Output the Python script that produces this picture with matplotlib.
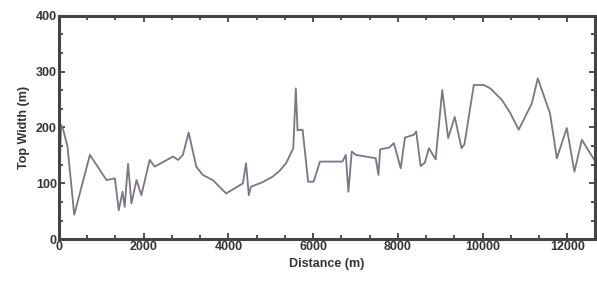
import matplotlib
matplotlib.use("Agg")
import matplotlib.pyplot as plt
from matplotlib.ticker import MultipleLocator, AutoMinorLocator

distance = [0, 50, 100, 200, 360, 730, 1120, 1320, 1410, 1500, 1550, 1630, 1710,
            1830, 1945, 2140, 2260, 2690, 2810, 2925, 3060, 3240, 3395, 3630, 3800, 3945,
            4340, 4415, 4480, 4530, 4800, 5040, 5200, 5360, 5530, 5590, 5630, 5750, 5880, 6010,
            6160, 6690, 6770, 6830, 6910, 7005, 7475, 7540, 7580, 7790, 7905, 8065,
            8165, 8375, 8430, 8535, 8635, 8730, 8890, 9045, 9185, 9340, 9500, 9570,
            9790, 10025, 10180, 10455, 10650, 10850, 11160, 11300, 11590, 11750, 11985,
            12165, 12340, 12650]
top_width = [85, 205, 196, 166, 44, 151, 106, 109, 52, 85, 58, 135, 64,
             106, 79, 142, 130, 148, 142, 151, 191, 130, 115, 106, 93, 82,
             100, 136, 79, 94, 102, 112, 122, 136, 163, 270, 195, 196, 103, 103,
             139, 139, 151, 85, 157, 151, 145, 115, 161, 164, 172, 127,
             182, 187, 193, 131, 137, 163, 143, 267, 181, 219, 163, 170,
             276, 276, 270, 249, 226, 196, 243, 288, 225, 145, 199,
             121, 178, 140]

fig = plt.figure(figsize=(5.97, 2.89), dpi=100)
ax = fig.add_axes([0.0988, 0.172, 0.8978, 0.7737])
ax.plot(distance, top_width, color="#7d7484", lw=1.3)

ax.set_xlim(0, 12650)
ax.set_ylim(0, 400)
ax.xaxis.set_major_locator(MultipleLocator(2000))
ax.yaxis.set_major_locator(MultipleLocator(100))
ax.xaxis.set_minor_locator(AutoMinorLocator(3))
ax.yaxis.set_minor_locator(AutoMinorLocator(3))
ax.tick_params(which="both", direction="in", top=True, right=True, color="#333333", width=1.2)
ax.tick_params(which="major", length=4, pad=1.5)
ax.tick_params(which="minor", length=3)
for lab in ax.get_xticklabels() + ax.get_yticklabels():
    lab.set_fontweight("bold")
    lab.set_fontsize(9)
    lab.set_family("Liberation Sans")
    lab.set_color("#333333")
for sp in ax.spines.values():
    sp.set_linewidth(2.2)
    sp.set_color("#444444")

ax.set_xlabel("Distance (m)", fontsize=9, fontweight="bold", family="Liberation Sans",
              color="#333333", labelpad=3)
ax.set_ylabel("Top Width (m)", fontsize=9, fontweight="bold", family="Liberation Sans",
              color="#333333", labelpad=4)

fig.savefig("out.png", dpi=100)
